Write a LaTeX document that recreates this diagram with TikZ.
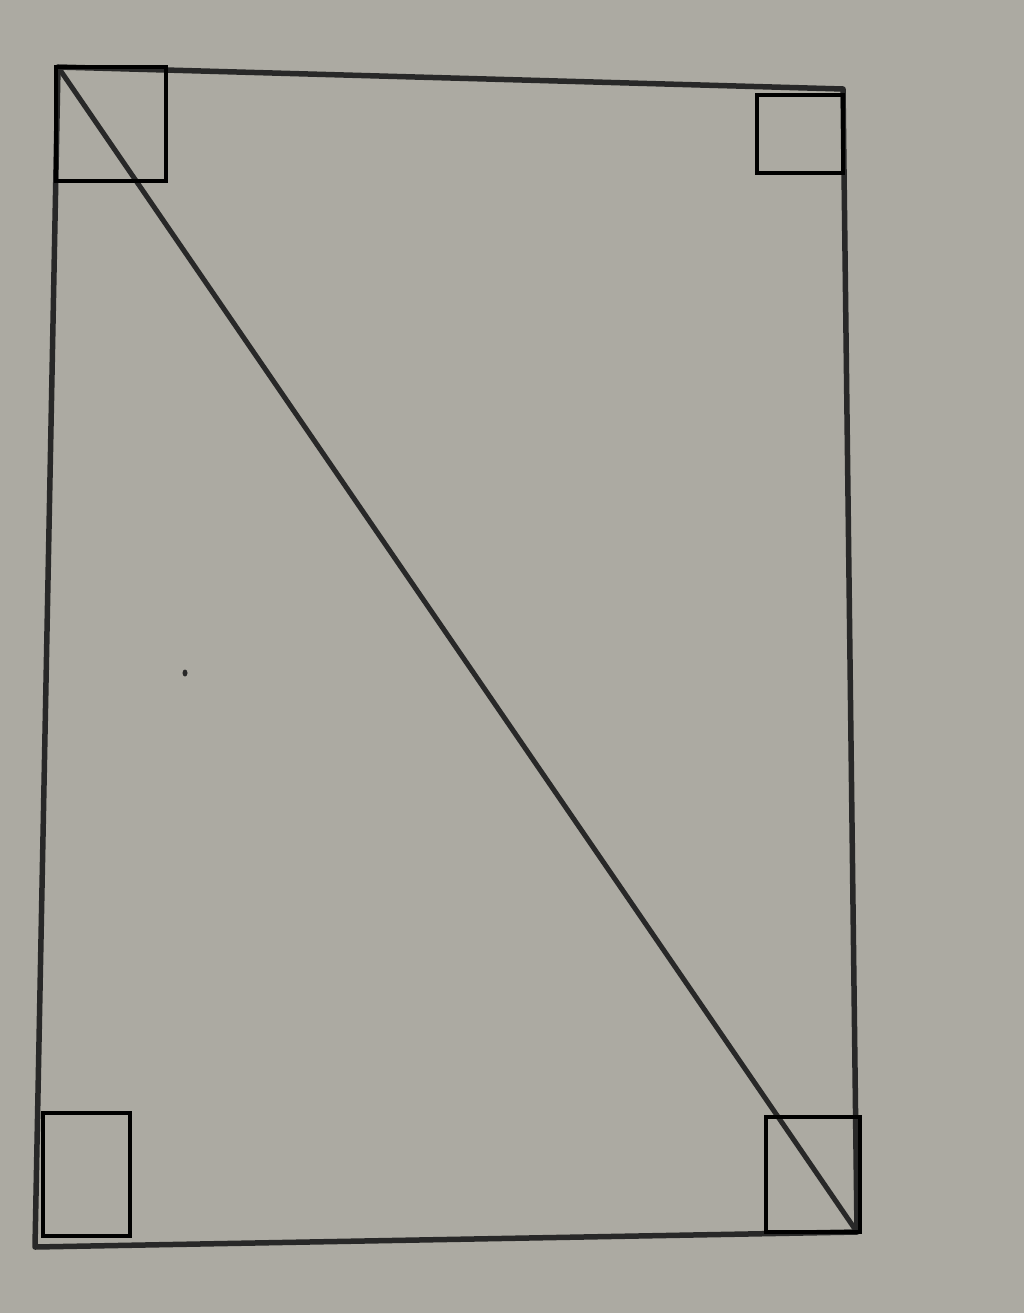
\documentclass[tikz,border=0pt]{standalone}
\usetikzlibrary{positioning}
\definecolor{paper}{RGB}{172,170,162}
\definecolor{pencil}{RGB}{40,40,40}

\begin{document}
\begin{tikzpicture}[x=1pt, y=-1pt,
  edge/.style={draw=pencil, line width=5.5pt, line join=round, line cap=round},
  markbox/.style={draw=black, line width=4.5pt}]
\fill[paper] (0,0) rectangle (1024,1313);
\useasboundingbox (0,0) rectangle (1024,1313);

\coordinate (tl) at (58,67);
\coordinate (tr) at (843,89);
\coordinate (br) at (857,1232);
\coordinate (bl) at (35,1247);

\draw[edge] (tl) -- (tr) -- (br) -- (bl) -- cycle;
\draw[edge, line width=5pt] (tl) -- (br);

\draw[markbox] (56,67) rectangle (166,181);
\draw[markbox] (757,95) rectangle (843,173);
\draw[markbox] (43,1113) rectangle (130,1236);
\draw[markbox] (766,1117) rectangle (860,1232);

\fill[pencil] (185,673) ellipse (2.5pt and 3.5pt);
\end{tikzpicture}
\end{document}
